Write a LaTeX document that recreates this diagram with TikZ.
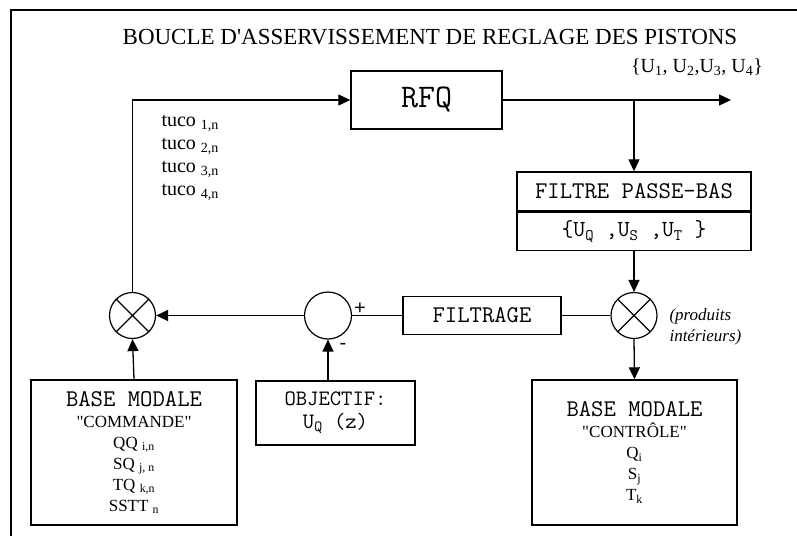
\documentclass[tikz,border=0pt]{standalone}
\usepackage{fontspec}
\setmainfont{Liberation Serif}
\newfontfamily\sansfnt{Liberation Sans}
\usetikzlibrary{positioning,arrows.meta}

\tikzset{
  blok/.style={draw, line width=1.4pt, inner sep=2pt, align=center},
  mult/.style={draw, circle, line width=1.2pt, minimum size=46pt, inner sep=0pt,
    path picture={\draw[line width=1.1pt] (path picture bounding box.north west) -- (path picture bounding box.south east)
      (path picture bounding box.north east) -- (path picture bounding box.south west);}},
  somme/.style={draw, circle, line width=1.2pt, minimum size=47pt, inner sep=0pt},
  arr/.style={line width=1.3pt, -{Triangle[length=12pt,width=11pt]}},
  lien/.style={line width=1.3pt}
}

\begin{document}
\begin{tikzpicture}[x=1pt,y=-1pt]
  \useasboundingbox (0,0) rectangle (797,536);
  \draw[line width=1.3pt] (797,10) -- (11,10) -- (11,536);

  \node (titre) at (430,37) {\fontsize{23}{26}\selectfont BOUCLE D\textquotesingle ASSERVISSEMENT DE REGLAGE DES PISTONS};

  \node[blok, minimum width=151pt, minimum height=58pt, font=\ttfamily\fontsize{33}{36}\selectfont] (rfq) at (426.5,100) {RFQ};
  \coordinate (sortie) at (731,100);
  \node (uset) at (697,67) {\fontsize{20}{22}\selectfont \{U\textsubscript{1}, U\textsubscript{2},U\textsubscript{3}, U\textsubscript{4}\}};

  \node[blok, minimum width=234pt, minimum height=39pt, font=\ttfamily\fontsize{24}{26}\selectfont] (fltA) at (634,191.5) {FILTRE PASSE-BAS};
  \node[blok, minimum width=234pt, minimum height=38pt, font=\ttfamily\fontsize{23}{26}\selectfont, below=0pt of fltA] (fltB) {\{U\textsubscript{Q} ,U\textsubscript{S} ,U\textsubscript{T} \}};

  \node[mult] (multR) at (634,315.5) {};
  \node[anchor=west, align=left, font=\itshape\fontsize{17}{21}\selectfont] (prod) at (666,327) {(produits\\intérieurs)};

  \node[blok, minimum width=205pt, minimum height=145pt, font=\fontsize{17}{21}\selectfont] (ctrl) at (634.5,452.5)
    {{\ttfamily\fontsize{24}{21}\selectfont BASE MODALE}\\\textquotedbl CONTRÔLE\textquotedbl\\Q\textsubscript{i}\\S\textsubscript{j}\\T\textsubscript{k}};

  \node[blok, minimum width=158pt, minimum height=38pt, font=\ttfamily\fontsize{24}{26}\selectfont] (filtrage) at (482,315.5) {FILTRAGE};

  \node[somme] (sum) at (328,315.5) {};
  \node[font=\sansfnt\fontsize{20}{22}\selectfont] (plus) at (360,309) {+};
  \node[font=\sansfnt\fontsize{20}{22}\selectfont] (moins) at (343,346) {-};

  \node[blok, minimum width=159pt, minimum height=64pt, font=\ttfamily\fontsize{22}{23}\selectfont] (obj) at (335.5,413)
    {OBJECTIF:\\U\textsubscript{Q} (z)};

  \node[mult] (multL) at (132.5,315.5) {};

  \node[blok, minimum width=206pt, minimum height=145pt, font=\fontsize{17}{21}\selectfont] (cmd) at (134,452.5)
    {{\ttfamily\fontsize{24}{21}\selectfont BASE MODALE}\\\textquotedbl COMMANDE\textquotedbl\\QQ \textsubscript{i,n}\\SQ \textsubscript{j, n}\\TQ \textsubscript{k,n}\\SSTT \textsubscript{n}};

  \node[anchor=west, align=left, font=\fontsize{20}{23}\selectfont] (tuco) at (158,158)
    {tuco \textsubscript{1,n}\\tuco \textsubscript{2,n}\\tuco \textsubscript{3,n}\\tuco \textsubscript{4,n}};

  % liaisons
  \draw[arr] (multL.north) |- (rfq.west);
  \draw[arr] (rfq.east) -- (sortie);
  \draw[arr] (rfq.east -| fltA.north) -- (fltA.north);
  \draw[arr] (fltB.south) -- (multR.north);
  \draw[arr] (multR.south) -- (ctrl.north);
  \draw[lien] (multR.west) -- (filtrage.east);
  \draw[lien] (filtrage.west) -- (sum.east);
  \draw[arr] (sum.west) -- (multL.east);
  \draw[arr] (cmd.north) -- (multL.south);
  \draw[arr] (sum.south |- obj.north) -- (sum.south);
\end{tikzpicture}
\end{document}
